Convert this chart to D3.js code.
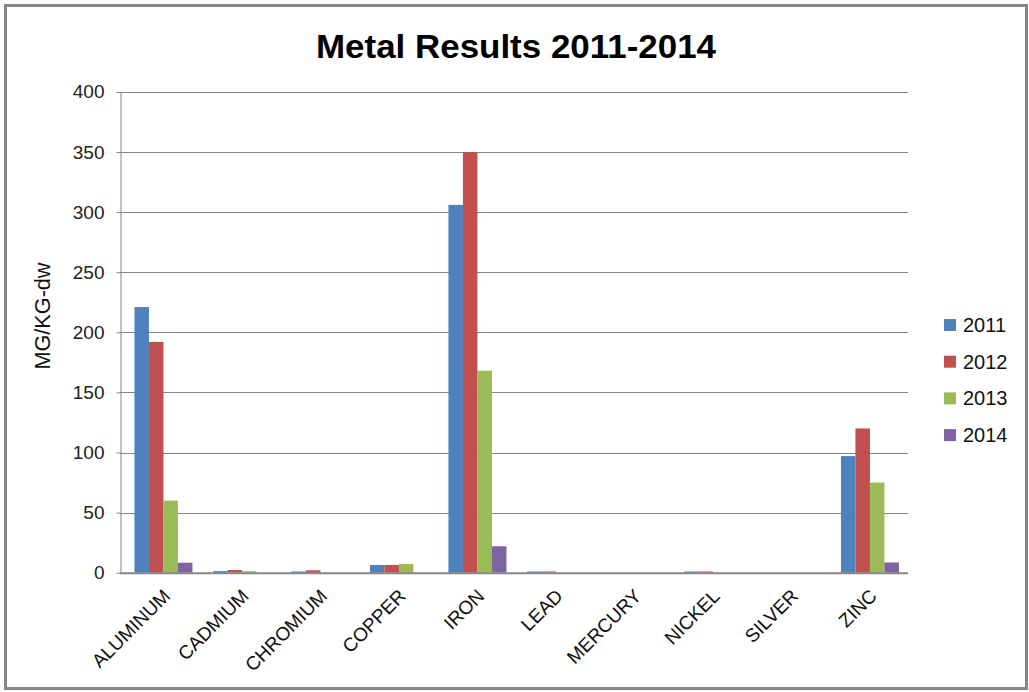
<!DOCTYPE html>
<html><head><meta charset="utf-8">
<script src="https://cdn.jsdelivr.net/npm/d3@7"></script>
<style>body{margin:0;background:#fff}svg{display:block}</style>
</head><body>
<svg id="c" width="1029" height="692"></svg>
<script>
const categories = ["ALUMINUM","CADMIUM","CHROMIUM","COPPER","IRON","LEAD","MERCURY","NICKEL","SILVER","ZINC"];
const years = ["2011","2012","2013","2014"];
const v2011 = [221, 1.3, 1, 6.4, 306, 1, 0, 1, 0, 97];
const v2012 = [192, 2.2, 2, 6.4, 350, 1, 0, 1, 0, 120];
const v2013 = [60, 1.2, 0, 7.3, 168, 0, 0, 0, 0, 75];
const v2014 = [8.3, 0, 0, 0, 22, 0, 0, 0, 0, 8.5];
const yTicks = [0,50,100,150,200,250,300,350,400];
const colors = ["#4F81BD","#C0504D","#9BBB59","#8064A2"];
const series = [v2011, v2012, v2013, v2014];

const svg = d3.select("#c");
const font = "'Liberation Sans', Arial, sans-serif";
svg.append("rect").attr("x",5.5).attr("y",5.5).attr("width",1021).attr("height",683)
  .attr("fill","#fff").attr("stroke","#868686").attr("stroke-width",3);

const L=120, R=908, T=91.9, B=572.7;
const x = d3.scaleBand().domain(categories).range([124.2,909.2]);
const y = d3.scaleLinear().domain([0,400]).range([B,T]);
const gw = 58;
const x1 = d3.scaleBand().domain(years).range([0, gw]);

// gridlines
svg.append("g").selectAll("line").data(yTicks.filter(d=>d>0)).join("line")
  .attr("x1",L).attr("x2",R).attr("y1",d=>Math.round(y(d))+0.5).attr("y2",d=>Math.round(y(d))+0.5)
  .attr("stroke","#868686").attr("stroke-width",1);

// y axis
const ya = svg.append("g").attr("transform",`translate(${L+0.5},0)`)
  .call(d3.axisLeft(y).tickValues(yTicks).tickSize(4).tickPadding(12).tickSizeOuter(0));
ya.select(".domain").attr("stroke","#868686");
ya.selectAll(".tick line").attr("stroke","#868686");
ya.selectAll(".tick text").attr("font-family",font).attr("font-size",19).attr("fill","#222");

// bars
const g = svg.append("g");
years.forEach((yr,i)=>{
  g.append("g").selectAll("rect").data(categories).join("rect")
    .attr("x",c=>x(c)+x.bandwidth()/2-gw/2+x1(yr))
    .attr("width",x1.bandwidth())
    .attr("y",(c,j)=>y(series[i][j]))
    .attr("height",(c,j)=>B-y(series[i][j]))
    .attr("fill",colors[i]);
});

// x axis line
svg.append("line").attr("x1",L).attr("x2",R).attr("y1",B+0.5).attr("y2",B+0.5)
  .attr("stroke","#868686").attr("stroke-width",2);
const xa = svg.append("g").attr("transform",`translate(0,${B+0.5})`)
  .call(d3.axisBottom(x).tickSize(0).tickSizeOuter(0));
xa.select(".domain").remove();
xa.selectAll(".tick text").attr("font-family",font).attr("font-size",19).attr("fill","#111")
  .attr("text-anchor","end").attr("dy",0).attr("y",0)
  .attr("transform","translate(8,24) rotate(-45)");

// title
svg.append("text").attr("x",516).attr("y",58).attr("text-anchor","middle")
  .attr("font-family",font).attr("font-weight","bold").attr("font-size",33)
  .attr("textLength",400).attr("lengthAdjust","spacingAndGlyphs")
  .text("Metal Results 2011-2014");

// y label
svg.append("text").attr("transform","translate(50,316) rotate(-90)").attr("text-anchor","middle")
  .attr("font-family",font).attr("font-size",22).attr("fill","#111")
  .attr("textLength",107).attr("lengthAdjust","spacingAndGlyphs").text("MG/KG-dw");

// legend
const lg = svg.append("g");
years.forEach((yr,i)=>{
  const cy = 325 + i*36.7;
  lg.append("rect").attr("x",944).attr("y",cy-6).attr("width",12).attr("height",12).attr("fill",colors[i]);
  lg.append("text").attr("x",963).attr("y",cy+7).attr("font-family",font).attr("font-size",20)
    .attr("fill","#111").text(yr);
});
</script>
</body></html>
